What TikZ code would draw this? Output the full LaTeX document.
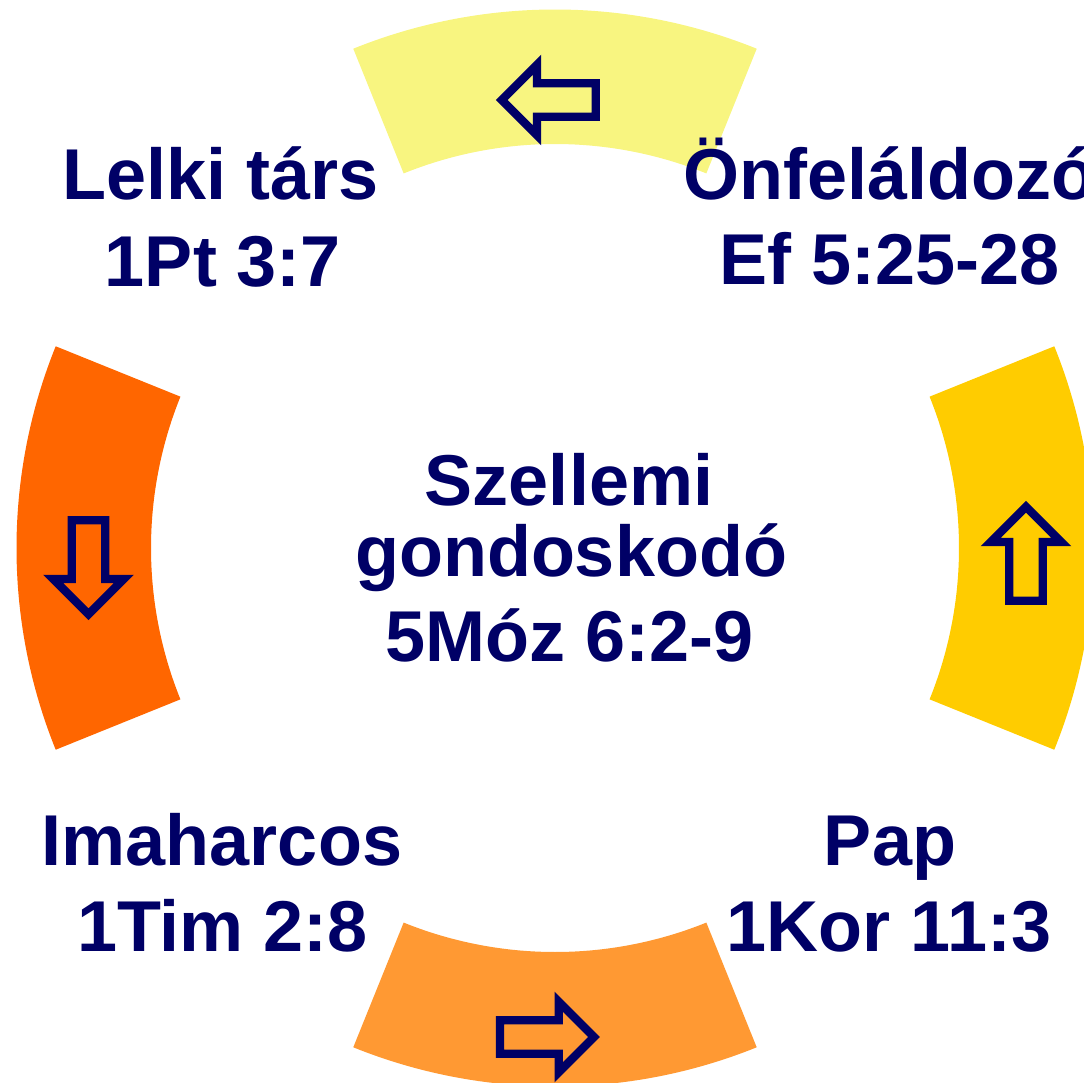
\documentclass[tikz,border=0pt]{standalone}
\usepackage{fontspec}
\setmainfont{Liberation Sans}
\usetikzlibrary{calc}
\definecolor{navy}{RGB}{0,0,102}
\definecolor{cTop}{RGB}{248,245,128}
\definecolor{cRight}{RGB}{255,204,0}
\definecolor{cBottom}{RGB}{255,153,51}
\definecolor{cLeft}{RGB}{255,102,0}
\newcommand\ringpart[3]{%
  \fill[#3] ($(C)+(#1:538.5)$) arc[start angle=#1, end angle=#2, radius=538.5]
    -- ($(C)+(#2:404)$) arc[start angle=#2, end angle=#1, radius=404] -- cycle;}
\tikzset{
  lbl/.style={font=\fontsize{36}{43}\selectfont\bfseries, text=navy, anchor=base, inner sep=0pt},
  outlinearrow/.pic={
    \path[pic actions, draw=navy, line width=4.15pt, miter limit=10]
      (-47,-16.8) -- (11.7,-16.8) -- (11.7,-35.3) -- (47,0) -- (11.7,35.3)
      -- (11.7,16.8) -- (-47,16.8) -- cycle;
  }
}
\begin{document}
\begin{tikzpicture}[x=0.5pt, y=-0.5pt]
\useasboundingbox (0,0) rectangle (1084,1083);
\clip (0,0) rectangle (1084,1083);
\coordinate (C) at (555,548);
% ring sectors
\ringpart{-112}{-68}{cTop}
\ringpart{-22}{22}{cRight}
\ringpart{68}{112}{cBottom}
\ringpart{158}{202}{cLeft}
% outline arrows
\pic (arrTop)    [fill=cTop, rotate=180]   at (548.7,100)  {outlinearrow};
\pic (arrRight)  [fill=cRight, rotate=90]  at (1026,553.7) {outlinearrow};
\pic (arrBottom) [fill=cBottom]            at (547,1037)   {outlinearrow};
\pic (arrLeft)   [fill=cLeft, rotate=-90]  at (88.5,567.3) {outlinearrow};
% labels
\node[lbl] (lelki)   at (221,199)   {Lelki társ};
\node[lbl] (lelkiR)  at (223,286)   {1Pt 3:7};
\node[lbl, anchor=base west] (onf) at (683,199) {Önfeláldozó};
\node[lbl] (onfR)    at (890,284)   {Ef 5:25-28};
\node[lbl] (sz1)     at (569,505.7) {Szellemi};
\node[lbl] (sz2)     at (571,576)   {gondoskodó};
\node[lbl] (szR)     at (570,661.7) {5Móz 6:2-9};
\node[lbl] (ima)     at (222,865.7) {Imaharcos};
\node[lbl] (imaR)    at (222.5,951.7) {1Tim 2:8};
\node[lbl] (pap)     at (890,865)   {Pap};
\node[lbl] (papR)    at (889,951.7) {1Kor 11:3};
\end{tikzpicture}
\end{document}
